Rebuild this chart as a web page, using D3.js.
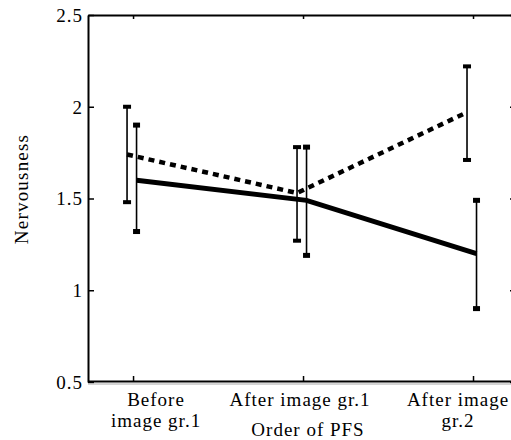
<!DOCTYPE html>
<html>
<head>
<meta charset="utf-8">
<script src="https://cdn.jsdelivr.net/npm/d3@7/dist/d3.min.js"></script>
<style>
  html, body { margin: 0; padding: 0; background: #fff; }
  svg { display: block; }
  text { font-family: "Liberation Serif", "Times New Roman", serif; fill: #000; }
</style>
</head>
<body>
<svg id="chart" width="511" height="440"></svg>
<script>
// ---- data ----
const categories = ["Before image gr.1", "After image gr.1", "After image gr.2"];
const categoryLines = [["Before", "image gr.1"], ["After image gr.1"], ["After image", "gr.2"]];
const catIndex = [1, 2, 3];
const dashedMean = [1.74, 1.53, 1.97];
const dashedLow  = [1.48, 1.27, 1.71];
const dashedHigh = [2.00, 1.78, 2.22];
const solidMean  = [1.60, 1.49, 1.20];
const solidLow   = [1.32, 1.19, 0.90];
const solidHigh  = [1.90, 1.78, 1.49];
const yTicks = [0.5, 1, 1.5, 2, 2.5];
const yTitle = "Nervousness";
const xTitle = "Order of PFS";

// ---- layout ----
const svg = d3.select("#chart");
const plotLeft = 88, plotRight = 515, plotTop = 15, plotBottom = 382;

const x = d3.scaleLinear().domain([0.735, 3.247]).range([plotLeft, plotRight]);
const y = d3.scaleLinear().domain([0.5, 2.5]).range([plotBottom, plotTop]);

const fontSize = 19;

// axes
const gLeft = svg.append("g").attr("transform", `translate(${plotLeft},0)`)
  .call(d3.axisLeft(y).tickValues(yTicks).tickFormat(d3.format("")).tickSizeInner(-6).tickSizeOuter(0).tickPadding(5));
const gRight = svg.append("g").attr("transform", `translate(${plotRight},0)`)
  .call(d3.axisRight(y).tickValues(yTicks).tickFormat("").tickSizeInner(-5).tickSizeOuter(0));
const gTop = svg.append("g").attr("transform", `translate(0,${plotTop})`)
  .call(d3.axisTop(x).tickValues(catIndex).tickFormat("").tickSizeInner(-4).tickSizeOuter(0));
const gBottom = svg.append("g").attr("transform", `translate(0,${plotBottom - 1})`)
  .call(d3.axisBottom(x).tickValues(catIndex).tickFormat("").tickSizeInner(-5).tickSizeOuter(0));

[gLeft, gRight, gTop, gBottom].forEach(g => {
  g.select(".domain").attr("stroke", "#000").attr("stroke-width", 2);
  g.selectAll(".tick line").attr("stroke", "#000").attr("stroke-width", 1.5);
  g.selectAll("text").attr("font-size", fontSize).attr("letter-spacing", "1px")
    .attr("font-family", "Liberation Serif, Times New Roman, serif").attr("fill", "#000");
});
gLeft.selectAll(".tick text").attr("dy", "0.34em");

// faint second line under bottom axis
svg.append("line").attr("x1", plotLeft).attr("x2", 511)
  .attr("y1", plotBottom + 2).attr("y2", plotBottom + 2)
  .attr("stroke", "#aaa").attr("stroke-width", 1);

// x category labels
const labelDx = [23, -3, -15];
categoryLines.forEach((lines, i) => {
  const cx = x(catIndex[i]) + labelDx[i];
  const t = svg.append("text")
    .attr("text-anchor", "middle")
    .attr("font-size", fontSize)
    .attr("letter-spacing", "1px")
    .attr("x", cx)
    .attr("y", 405.5);
  lines.forEach((ln, j) => {
    t.append("tspan").attr("x", cx).attr("dy", j === 0 ? 0 : 21).text(ln);
  });
});

// axis titles
svg.append("text").attr("text-anchor", "middle").attr("font-size", fontSize)
  .attr("letter-spacing", "1px")
  .attr("x", 308).attr("y", 435.5).text(xTitle);
svg.append("text").attr("text-anchor", "middle").attr("font-size", fontSize)
  .attr("letter-spacing", "1.2px")
  .attr("transform", "translate(28,189) rotate(-90)").text(yTitle);

// series
const series = [
  { mean: dashedMean, low: dashedLow, high: dashedHigh, dx: -6, dash: "6,5", capW: 8, capH: 4 },
  { mean: solidMean, low: solidLow, high: solidHigh, dx: 3.5, dash: null, capW: 7, capH: 5 }
];

series.forEach(s => {
  const pts = catIndex.map((c, i) => ({ cx: x(c) + s.dx, m: s.mean[i], lo: s.low[i], hi: s.high[i] }));
  const g = svg.append("g");
  g.selectAll("line.err").data(pts).enter().append("line")
    .attr("x1", d => d.cx).attr("x2", d => d.cx)
    .attr("y1", d => y(d.hi)).attr("y2", d => y(d.lo))
    .attr("stroke", "#000").attr("stroke-width", 1.6);
  const caps = pts.flatMap(d => [d.hi, d.lo].map(v => ({ cx: d.cx, v })));
  g.selectAll("rect.cap").data(caps).enter().append("rect")
    .attr("x", d => d.cx - s.capW / 2).attr("y", d => y(d.v) - s.capH / 2)
    .attr("width", s.capW).attr("height", s.capH).attr("fill", "#000");
  const line = d3.line().x(d => d.cx).y(d => y(d.m));
  const p = svg.append("path").datum(pts).attr("d", line)
    .attr("fill", "none").attr("stroke", "#000")
    .attr("stroke-width", s.dash ? 4.5 : 5);
  if (s.dash) p.attr("stroke-dasharray", s.dash);
});
</script>
</body>
</html>
